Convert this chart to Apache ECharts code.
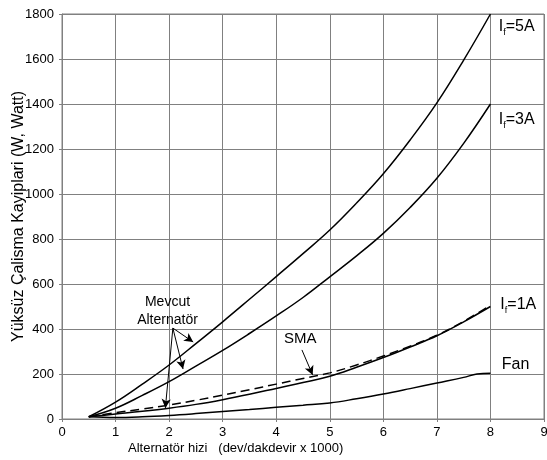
<!DOCTYPE html>
<html><head><meta charset="utf-8">
<script src="https://cdn.jsdelivr.net/npm/echarts@6/dist/echarts.min.js"></script>
<style>html,body{margin:0;padding:0;background:#fff}#c{width:547px;height:460px}</style>
</head><body><div id="c"></div>
<script>
const speeds = [0.5,1,1.5,2,2.5,3,3.5,4,4.5,5,5.5,6,6.5,7,7.5,8];
const if5A = [10,75,155,240,335,432,532,633,735,840,960,1090,1240,1405,1595,1800];
const if3A = [10,48,105,166,235,305,380,458,540,632,725,825,940,1070,1225,1400];
const if1A = [10,22,34,48,65,86,110,136,162,190,230,273,320,370,432,500];
const sma  = [10,28,44,62,83,106,130,155,180,205,240,280,324,372,434,505];
const fanX = [0.5,1,1.5,2,2.5,3,3.5,4,4.5,5,5.5,6,6.5,7,7.5,7.75,8];
const fan  = [10,7,10,16,24,33,42,52,61,71,90,111,135,160,185,200,203];
const xTicks = [0,1,2,3,4,5,6,7,8,9];
const yTicks = [0,200,400,600,800,1000,1200,1400,1600,1800];

const FONT = '"Liberation Sans", Arial, sans-serif';
const zip = (xs, ys) => xs.map((x, i) => [x, ys[i]]);
const mk = (name, data, extra) => Object.assign({
  name, type:'line', data, symbol:'none', smooth:0.4, lineStyle:{color:'#000', width:1.5},
  animation:false, silent:true
}, extra || {});

const subLabel = (v) => '{a|I}{b|f}{a|=' + v + '}';
const richIf = {
  a:{fontSize:16, fontFamily:FONT, color:'#000'},
  b:{fontSize:9, fontFamily:FONT, color:'#000', padding:[11,0,0,0]}
};
const textPoint = (coord, text) => ({coord, symbolSize:0,
  label:{show:true, formatter:text, position:'inside', rich:richIf, fontFamily:FONT, fontSize:16, color:'#000'}});
const plainPoint = (coord, text, size, lh) => ({coord, symbolSize:0,
  label:{show:true, formatter:text, position:'inside', fontFamily:FONT, fontSize:size, color:'#000', lineHeight:lh || size + 2}});

const chart = echarts.init(document.getElementById('c'), null, {renderer:'canvas'});
chart.setOption({
  animation:false,
  grid:{left:62, right:3, top:14, bottom:41, containLabel:false, outerBoundsMode:'none', show:false},
  xAxis:{type:'value', min:0, max:9, interval:1,
    axisLine:{show:true, lineStyle:{color:'#808080', width:1}},
    axisTick:{show:true, length:3, lineStyle:{color:'#808080'}},
    axisLabel:{color:'#000', fontFamily:FONT, fontSize:13, margin:7,
      formatter:(v)=> xTicks.includes(v) ? String(v) : ''},
    splitLine:{show:true, lineStyle:{color:'#808080', width:1}}},
  yAxis:{type:'value', min:0, max:1800, interval:200,
    name:'Yüksüz Çalisma Kayiplari (W, Watt)', nameLocation:'middle', nameGap:35, nameMoveOverlap:false,
    nameTextStyle:{color:'#000', fontFamily:FONT, fontSize:16},
    axisLine:{show:true, lineStyle:{color:'#808080', width:1}},
    axisTick:{show:true, length:3, lineStyle:{color:'#808080'}},
    axisLabel:{color:'#000', fontFamily:FONT, fontSize:13, margin:8,
      formatter:(v)=> yTicks.includes(v) ? String(v) : ''},
    splitLine:{show:true, lineStyle:{color:'#808080', width:1}}},
  graphic:[
    {type:'rect', shape:{x:62, y:14, width:482, height:405}, style:{fill:'none', stroke:'#808080', lineWidth:1}, silent:true},
    {type:'text', left:128, top:442, style:{text:'Alternatör hizi   (dev/dakdevir x 1000)', font:'13px "Liberation Sans", Arial, sans-serif', fill:'#000'}}
  ],
  series:[
    mk('If=5A', zip(speeds, if5A)),
    mk('If=3A', zip(speeds, if3A)),
    mk('If=1A', zip(speeds, if1A)),
    mk('SMA', zip(speeds, sma), {lineStyle:{color:'#000', width:1.5, type:[9,5]}}),
    mk('Fan', zip(fanX, fan)),
    {type:'line', data:[], silent:true, animation:false,
      markPoint:{symbol:'circle', symbolSize:0, data:[
        textPoint([8.49,1742], subLabel('5A')),
        textPoint([8.49,1329], subLabel('3A')),
        textPoint([8.52,507], subLabel('1A')),
        plainPoint([8.47,240], 'Fan', 16),
        plainPoint([1.97,480], 'Mevcut\nAlternatör', 14, 18),
        plainPoint([4.45,356], 'SMA', 15)
      ]},
      markLine:{silent:true, symbol:['none','arrow'], symbolSize:[7,9], label:{show:false},
        lineStyle:{color:'#000', width:1, type:'solid'},
        data:[
          [{coord:[2.07,404]},{coord:[2.45,342]}],
          [{coord:[2.07,404]},{coord:[2.26,222]}],
          [{coord:[2.07,404]},{coord:[1.93,49]}],
          [{coord:[4.48,307]},{coord:[4.68,196]}]
        ]}
    }
  ]
});
</script></body></html>
